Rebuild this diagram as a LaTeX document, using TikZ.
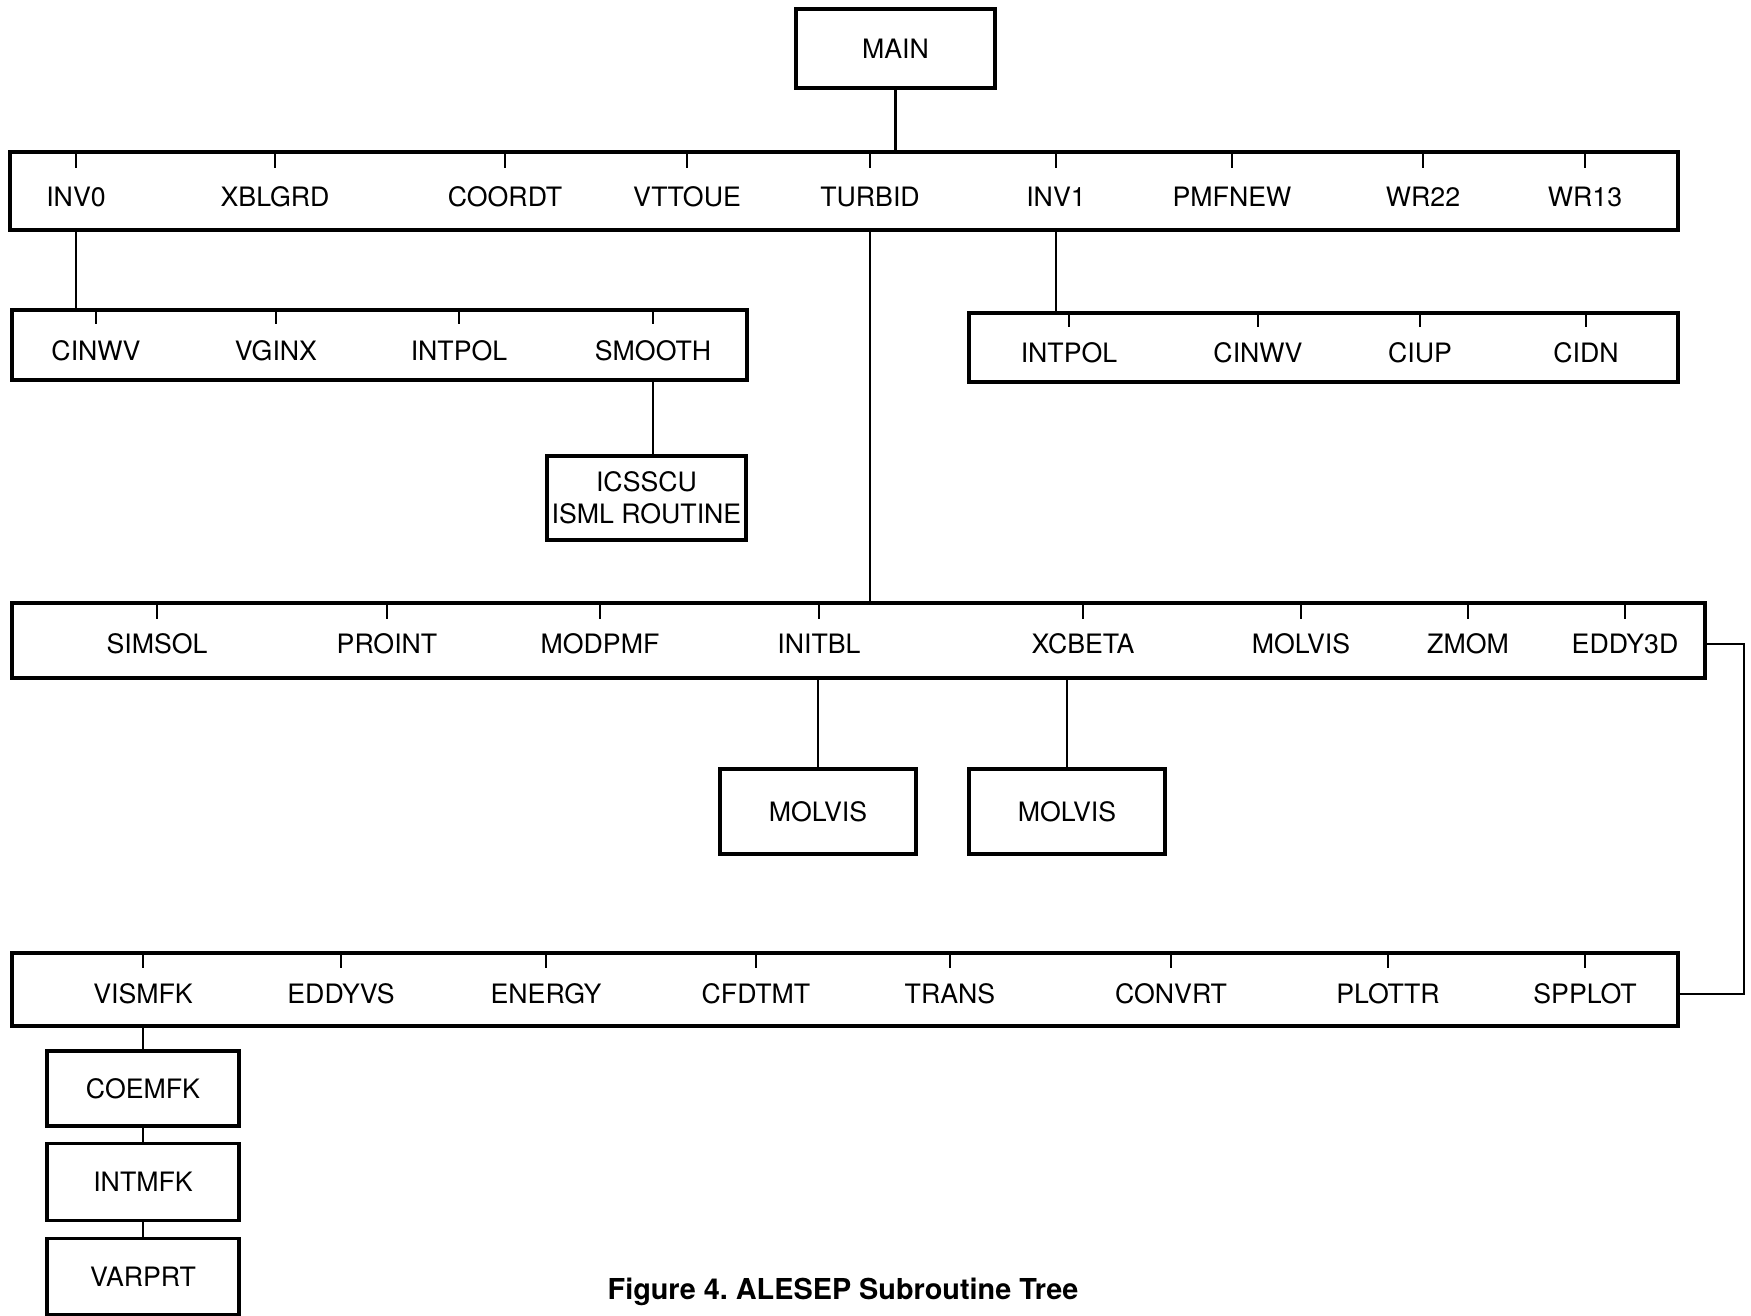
\documentclass[tikz,border=0pt]{standalone}
\usepackage{fontspec}
\setmainfont{TeX Gyre Heros}
\usetikzlibrary{positioning}
\tikzset{
    box/.style={draw, line width=0.9pt, inner sep=0pt, align=center, font=\fontsize{7.6}{9}\selectfont},
    lbl/.style={inner sep=1pt, font=\fontsize{7.6}{9}\selectfont},
    link/.style={line width=0.65pt},
    tick/.style={line width=0.6pt}
}
\begin{document}
\begin{tikzpicture}
    \useasboundingbox (0,0) rectangle (17.51,-13.16);
    % boxes
    \node[box, minimum width=1.99cm, minimum height=0.79cm] (main) at (8.955,-0.485) {MAIN};
    \node[box, minimum width=16.68cm, minimum height=0.78cm] (layer1) at (8.44,-1.91) {};
    \node[box, minimum width=7.35cm, minimum height=0.70cm] (sub0) at (3.795,-3.45) {};
    \node[box, minimum width=7.09cm, minimum height=0.69cm] (sub1) at (13.235,-3.475) {};
    \node[box, minimum width=1.99cm, minimum height=0.84cm] (icsscu) at (6.465,-4.98) {ICSSCU\\ISML ROUTINE};
    \node[box, minimum width=16.93cm, minimum height=0.75cm] (layer2) at (8.585,-6.405) {};
    \node[box, minimum width=1.96cm, minimum height=0.85cm] (molvisA) at (8.18,-8.115) {MOLVIS};
    \node[box, minimum width=1.96cm, minimum height=0.85cm] (molvisB) at (10.67,-8.115) {MOLVIS};
    \node[box, minimum width=16.66cm, minimum height=0.73cm] (layer3) at (8.45,-9.895) {};
    \node[box, minimum width=1.92cm, minimum height=0.75cm] (coemfk) at (1.43,-10.885) {COEMFK};
    \node[box, minimum width=1.92cm, minimum height=0.77cm, below=0.14cm of coemfk] (intmfk) {INTMFK};
    \node[box, minimum width=1.92cm, minimum height=0.76cm, below=0.15cm of intmfk] (varprt) {VARPRT};

    % routine names with their ticks
    \foreach \x/\t[count=\i] in {0.76/INV0, 2.75/XBLGRD, 5.05/COORDT, 6.87/VTTOUE, 8.70/TURBID,
                                 10.56/INV1, 12.32/PMFNEW, 14.23/WR22, 15.85/WR13} {
        \node[lbl] (a\i) at (\x,-1.97) {\t};
        \draw[tick] (a\i |- layer1.north) -- ++(0,-0.18);
    }
    \foreach \x/\t[count=\i] in {0.96/CINWV, 2.76/VGINX, 4.59/INTPOL, 6.53/SMOOTH} {
        \node[lbl] (b\i) at (\x,-3.51) {\t};
        \draw[tick] (b\i |- sub0.north) -- ++(0,-0.16);
    }
    \foreach \x/\t[count=\i] in {10.69/INTPOL, 12.58/CINWV, 14.20/CIUP, 15.86/CIDN} {
        \node[lbl] (c\i) at (\x,-3.53) {\t};
        \draw[tick] (c\i |- sub1.north) -- ++(0,-0.16);
    }
    \foreach \x/\t[count=\i] in {1.57/SIMSOL, 3.87/PROINT, 6.00/MODPMF, 8.19/INITBL,
                                 10.83/XCBETA, 13.01/MOLVIS, 14.68/ZMOM, 16.25/EDDY3D} {
        \node[lbl] (d\i) at (\x,-6.44) {\t};
        \draw[tick] (d\i |- layer2.north) -- ++(0,-0.18);
    }
    \foreach \x/\t[count=\i] in {1.43/VISMFK, 3.41/EDDYVS, 5.46/ENERGY, 7.56/CFDTMT,
                                 9.50/TRANS, 11.71/CONVRT, 13.88/PLOTTR, 15.85/SPPLOT} {
        \node[lbl] (e\i) at (\x,-9.94) {\t};
        \draw[tick] (e\i |- layer3.north) -- ++(0,-0.17);
    }

    % calls
    \draw[link] (main) -- (main |- layer1.north);
    \draw[link] (a1 |- layer1.south) -- (a1 |- sub0.north);
    \draw[link] (a6 |- layer1.south) -- (a6 |- sub1.north);
    \draw[link] (b4 |- sub0.south) -- (b4 |- icsscu.north);
    \draw[link] (a5 |- layer1.south) -- (a5 |- layer2.north);
    \draw[link] (molvisA) -- (molvisA |- layer2.south);
    \draw[link] (molvisB) -- (molvisB |- layer2.south);
    \coordinate (bend) at (17.44,0);
    \draw[link] (layer2.east |- d8) -| (bend |- e8) -- (layer3.east |- e8);
    \draw[link] (coemfk) -- (coemfk |- layer3.south);
    \draw[link] (coemfk) -- (intmfk);
    \draw[link] (intmfk) -- (varprt);

    \node[font=\fontsize{8.2}{10}\selectfont\bfseries] (caption) at (8.43,-12.92) {Figure 4.\ ALESEP Subroutine Tree};
\end{tikzpicture}
\end{document}
